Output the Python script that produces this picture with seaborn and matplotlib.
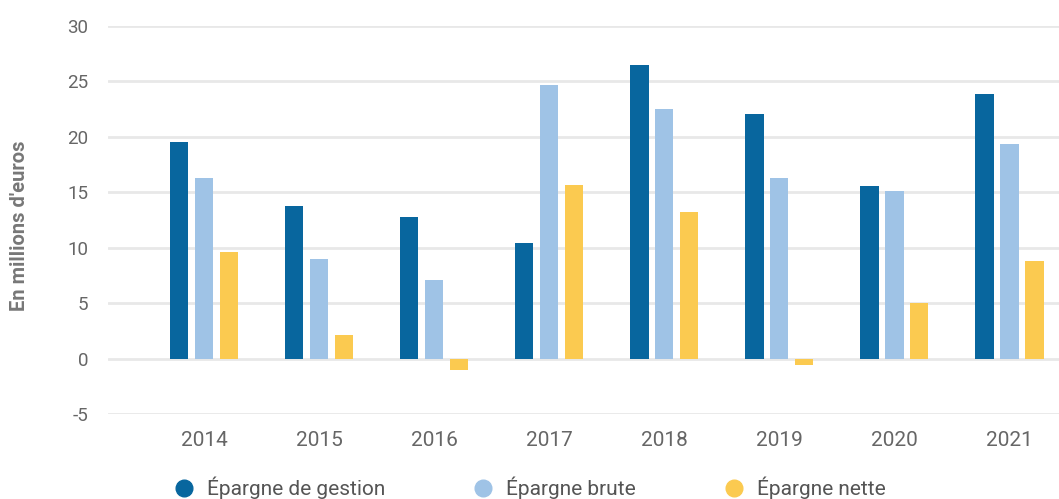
import matplotlib.pyplot as plt
import seaborn as sns
import pandas as pd

years = ["2014", "2015", "2016", "2017", "2018", "2019", "2020", "2021"]
epargne_gestion = [19.5, 13.8, 12.8, 10.4, 26.5, 22.1, 15.6, 23.9]
epargne_brute = [16.3, 9.0, 7.1, 24.7, 22.5, 16.3, 15.1, 19.4]
epargne_nette = [9.6, 2.1, -1.0, 15.7, 13.2, -0.6, 5.0, 8.8]
series = ["Épargne de gestion", "Épargne brute", "Épargne nette"]
colors = ["#08669e", "#9fc3e6", "#fbca50"]

df = pd.DataFrame({
    "annee": years * 3,
    "valeur": epargne_gestion + epargne_brute + epargne_nette,
    "serie": [s for s in series for _ in years],
})

sns.set_style("white")
plt.rcParams["font.family"] = ["Roboto", "DejaVu Sans"]
plt.rcParams["axes.unicode_minus"] = False

fig = plt.figure(figsize=(10.59, 4.99), dpi=100)
ax = fig.add_axes([108 / 1059, 85 / 499, 1 - 108 / 1059, (414 - 26) / 499])

sns.barplot(data=df, x="annee", y="valeur", hue="serie", palette=colors,
            width=0.65, gap=0.27, saturation=1, linewidth=0, ax=ax, legend=False)

ax.set_ylim(-5, 30)
ax.set_xlim(-0.835, 7.43)
ax.set_yticks(range(-5, 31, 5))
ax.yaxis.grid(True, color="#e8e8e8", linewidth=2)
ax.set_axisbelow(True)
for s in ax.spines.values():
    s.set_visible(False)
ax.tick_params(axis="both", length=0, labelcolor="#666666")
ax.tick_params(axis="x", pad=12, labelsize=15)
ax.tick_params(axis="y", pad=14, labelsize=13.5)
ax.set_xlabel("")
ax.set_ylabel("En millions d'euros", fontsize=14.5, fontweight="bold", color="#777777")
ax.yaxis.set_label_coords(-(108 - 29) / (1059 - 108), 0.485)

handles = [plt.Line2D([], [], marker="o", linestyle="", markersize=12, color=c) for c in colors]
fig.legend(handles, series, loc="center", bbox_to_anchor=(0.5, 11 / 499), ncol=3, frameon=False,
           fontsize=15, labelcolor="#555555", columnspacing=4.2, handlelength=1.0, handletextpad=0.6)

fig.savefig("out.png", dpi=100)
